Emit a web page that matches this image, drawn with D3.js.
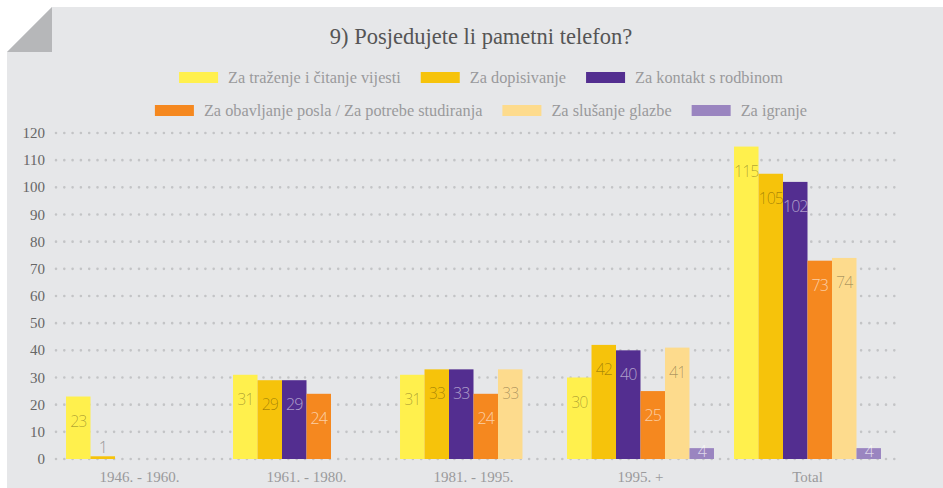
<!DOCTYPE html>
<html>
<head>
<meta charset="utf-8">
<script src="https://cdn.jsdelivr.net/npm/d3@7"></script>
<style>
  html, body { margin: 0; padding: 0; background: #fff; }
  svg { display: block; }
</style>
</head>
<body>
<div id="main"></div>
<script>
var width = 943, height = 488;

var categories = ["1946. - 1960.", "1961. - 1980.", "1981. - 1995.", "1995. +", "Total"];
var seriesNames = [
  "Za traženje i čitanje vijesti",
  "Za dopisivanje",
  "Za kontakt s rodbinom",
  "Za obavljanje posla / Za potrebe studiranja",
  "Za slušanje glazbe",
  "Za igranje"
];
var vijesti     = [23, 31, 31, 30, 115];
var dopisivanje = [1, 29, 33, 42, 105];
var kontakt     = [null, 29, 33, 40, 102];
var posla       = [null, 24, 24, 25, 73];
var glazbe      = [null, null, 33, 41, 74];
var igranje     = [null, null, null, 4, 4];
var seriesValues = [vijesti, dopisivanje, kontakt, posla, glazbe, igranje];
var yTicks = [0, 10, 20, 30, 40, 50, 60, 70, 80, 90, 100, 110, 120];

var colors = ["#fff04d", "#f6c30b", "#532e90", "#f5881f", "#fddb8d", "#9a85c0"];
var labelColors = ["rgba(0,0,0,0.33)", "rgba(0,0,0,0.33)", "rgba(255,255,255,0.55)",
  "rgba(255,255,255,0.6)", "rgba(0,0,0,0.33)", "rgba(255,255,255,0.7)"];

var svg = d3.select("#main").append("svg")
  .attr("width", width).attr("height", height);

// panel with folded corner
svg.append("polygon")
  .attr("points", "52,7 943,7 943,488 7,488 7,52")
  .style("fill", "#e6e7e9");
svg.append("polygon")
  .attr("points", "7,52 52,7 52,52")
  .style("fill", "#b6b7b9");

var serif = "'Liberation Serif', 'DejaVu Serif', serif";

svg.append("text")
  .text("9) Posjedujete li pametni telefon?")
  .attr("x", 481)
  .attr("y", 44)
  .attr("text-anchor", "middle")
  .style("font-family", serif)
  .style("font-size", "22.5px")
  .style("fill", "#555");

// legend, two centred rows
var legendRows = [[0, 1, 2], [3, 4, 5]];
var legendY = [72, 105];
legendRows.forEach(function (row, r) {
  var g = svg.append("g");
  var x = 0;
  row.forEach(function (s) {
    g.append("rect")
      .attr("x", x).attr("y", legendY[r])
      .attr("width", 39).attr("height", 11)
      .style("fill", colors[s]);
    var t = g.append("text")
      .text(seriesNames[s])
      .attr("x", x + 49)
      .attr("y", legendY[r] + 10.5)
      .style("font-family", serif)
      .style("font-size", "16.3px")
      .style("fill", "#9a9a9c");
    x += 49 + t.node().getComputedTextLength() + 20;
  });
  x -= 20;
  g.attr("transform", "translate(" + (481 - x / 2) + ",0)");
});

var y = d3.scaleLinear().domain([0, 120]).range([459, 133]);
var x0 = d3.scaleBand().domain(categories).range([56, 891])
  .paddingInner(0.12).paddingOuter(0.06);
var x1 = d3.scaleBand().domain(d3.range(seriesNames.length))
  .range([0, x0.bandwidth()]);

// dotted grid and y labels
var grid = svg.append("g");
yTicks.forEach(function (v) {
  grid.append("line")
    .attr("x1", 56).attr("x2", 901)
    .attr("y1", y(v)).attr("y2", y(v))
    .style("stroke", "#c3c4c6")
    .style("stroke-width", 2.6)
    .style("stroke-linecap", "round")
    .style("stroke-dasharray", "0,8.3");
  grid.append("text")
    .text(v)
    .attr("x", 45)
    .attr("y", y(v) + 5)
    .attr("text-anchor", "end")
    .style("font-family", serif)
    .style("font-size", "15px")
    .style("fill", "#666");
});

// bars
var bars = svg.append("g");
categories.forEach(function (c, i) {
  seriesValues.forEach(function (vals, s) {
    var v = vals[i];
    if (v == null) return;
    var bx = x0(c) + x1(s);
    var h = y(0) - y(v);
    bars.append("rect")
      .attr("x", bx).attr("y", y(v))
      .attr("width", x1.bandwidth()).attr("height", h)
      .style("fill", colors[s]);
    var ly;
    if (h >= 35) ly = y(v) + 30;
    else if (h >= 8) ly = y(0) - 2;
    else ly = y(v) - 3;
    bars.append("text")
      .text(v)
      .attr("x", bx + x1.bandwidth() / 2)
      .attr("y", ly)
      .attr("text-anchor", "middle")
      .style("font-family", "'Open Sans', Lato, sans-serif")
      .style("font-weight", 300)
      .style("font-size", "16px")
      .style("letter-spacing", "-1px")
      .style("fill", h >= 8 ? labelColors[s] : "#999");
  });
});

// category labels
categories.forEach(function (c) {
  svg.append("text")
    .text(c)
    .attr("x", x0(c) + x0.bandwidth() / 2)
    .attr("y", 482)
    .attr("text-anchor", "middle")
    .style("font-family", serif)
    .style("font-size", "15px")
    .style("fill", "#9a9a9c");
});
</script>
</body>
</html>
